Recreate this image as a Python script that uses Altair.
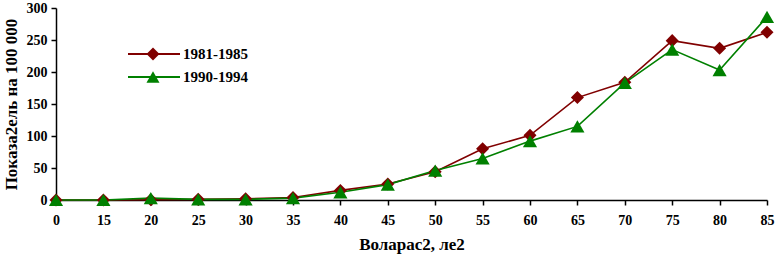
import altair as alt
import pandas as pd

ages = ["0", "15", "20", "25", "30", "35", "40", "45", "50", "55", "60", "65", "70", "75", "80", "85"]
series_a_name = "1981-1985"
series_b_name = "1990-1994"
series_a = [0, 0, 0.5, 1, 2, 4, 15, 25, 44, 80, 101, 160, 184, 249, 237, 262]
series_b = [0, 0, 3, 1, 1, 3, 12, 24, 46, 65, 92, 115, 183, 235, 203, 286]
y_ticks = [0, 50, 100, 150, 200, 250, 300]

RED = "#800000"
GREEN = "#008000"
FONT = "Liberation Serif"

rows = []
for a, v in zip(ages, series_a):
    rows.append({"age": a, "value": v, "series": series_a_name})
for a, v in zip(ages, series_b):
    rows.append({"age": a, "value": v, "series": series_b_name})
df = pd.DataFrame(rows)

x_enc = alt.X(
    "age:O",
    sort=ages,
    scale=alt.Scale(type="point", padding=0),
    axis=alt.Axis(
        title="Воларас2, ле2",
        labelAngle=0,
        labelFont=FONT,
        labelFontWeight="bold",
        labelFontSize=14,
        labelColor="black",
        labelPadding=8,
        tickSize=5,
        tickColor="black",
        domainColor="black",
        domainWidth=1.5,
        tickWidth=1.5,
        titleFont=FONT,
        titleFontWeight="bold",
        titleFontSize=17,
        titleColor="black",
        titlePadding=9,
        grid=False,
    ),
)
y_enc = alt.Y(
    "value:Q",
    scale=alt.Scale(domain=[0, 300], nice=False),
    axis=alt.Axis(
        title="Показа2ель на 100 000",
        values=y_ticks,
        labelFont=FONT,
        labelFontWeight="bold",
        labelFontSize=14,
        labelColor="black",
        labelPadding=4,
        tickSize=5,
        tickColor="black",
        domainColor="black",
        domainWidth=1.5,
        tickWidth=1.5,
        titleFont=FONT,
        titleFontWeight="bold",
        titleFontSize=17,
        titleColor="black",
        titlePadding=6,
        grid=False,
    ),
)

color_scale = alt.Scale(domain=[series_a_name, series_b_name], range=[RED, GREEN])

lines = alt.Chart(df).mark_line(strokeWidth=1.6).encode(
    x=x_enc, y=y_enc,
    color=alt.Color("series:N", scale=color_scale, legend=None),
)

pts_a = alt.Chart(df[df.series == series_a_name]).mark_point(
    shape="diamond", filled=True, size=170, color=RED, opacity=1
).encode(x=x_enc, y=y_enc)

pts_b = alt.Chart(df[df.series == series_b_name]).mark_point(
    shape="triangle-up", filled=True, size=200, color=GREEN, opacity=1
).encode(x=x_enc, y=y_enc)

legend_df = pd.DataFrame({"series": [series_a_name, series_b_name]})


def legend_item(name, color, shape, yy):
    base = alt.Chart(legend_df[legend_df.series == name])
    rule = base.mark_rule(color=color, strokeWidth=2).encode(
        x=alt.value(72), x2=alt.value(124), y=alt.value(yy)
    )
    pt = base.mark_point(shape=shape, filled=True, size=170, color=color, opacity=1).encode(
        x=alt.value(97), y=alt.value(yy)
    )
    txt = base.mark_text(
        align="left", baseline="middle", font=FONT, fontWeight="bold", fontSize=15, color="black"
    ).encode(x=alt.value(127), y=alt.value(yy), text="series:N")
    return [rule, pt, txt]


layers = [lines, pts_a, pts_b]
layers += legend_item(series_a_name, RED, "diamond", 46)
layers += legend_item(series_b_name, GREEN, "triangle-up", 69)

chart = alt.layer(*layers).properties(
    width=711,
    height=192,
    autosize=alt.AutoSizeParams(type="none"),
    padding={"left": 56, "top": 8, "right": 8, "bottom": 56},
    background="white",
).configure_view(stroke=None)

chart.save("out.html", embed_options={"renderer": "svg", "actions": False})
